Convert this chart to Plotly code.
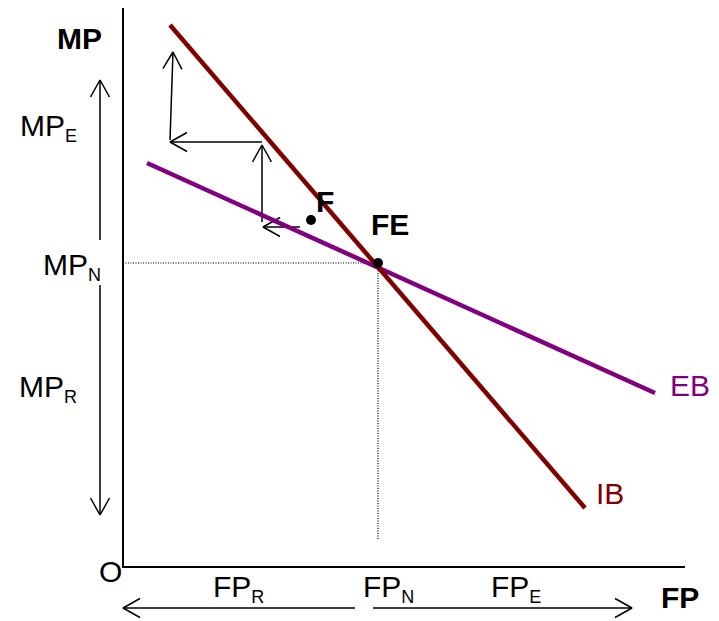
import math
import plotly.graph_objects as go

# coordinates in FP / MP units, origin O at the axes corner
ib_x = [47, 462]
ib_y = [542, 59]
eb_x = [24, 532]
eb_y = [404, 174]

fe_point = (255, 304)
f_point = (188, 347)

axis_top = 559
axis_right = 562
dotted_bottom = 27

# arrows as (tail_x, tail_y, head_x, head_y)
arrows = [
    (47, 427, 50, 515),
    (139, 425, 47, 425),
    (139, 345, 139, 422),
    (177, 340, 140, 340),
    (-23, 327, -23, 487),
    (-23, 282, -23, 52),
    (232, -41, 0, -41),
    (250, -41, 509, -41),
]

SUB = "<sub><span style='font-size:18px'>{}</span></sub>"

labels = [
    ("<b>MP</b>", -44, 529, "center"),
    ("MP" + SUB.format("E"), -105, 440, "left"),
    ("MP" + SUB.format("N"), -82, 301, "left"),
    ("MP" + SUB.format("R"), -106, 179, "left"),
    ("O", -13, -4, "center"),
    ("FP" + SUB.format("R"), 88, -21, "left"),
    ("FP" + SUB.format("N"), 238, -21, "left"),
    ("FP" + SUB.format("E"), 366, -21, "left"),
    ("<b>FP</b>", 557, -30, "center"),
    ("<b>F</b>", 202, 366, "center"),
    ("<b>FE</b>", 267, 343, "center"),
]

FONT = "Liberation Sans, Arial, sans-serif"
HEAD_LEN = 17
HEAD_HALF = 9.5

fig = go.Figure()

# axes
fig.add_trace(go.Scatter(x=[0, 0, axis_right], y=[axis_top, 0, 0], mode="lines",
                         line=dict(color="black", width=2), hoverinfo="skip"))

# dotted guides to FE
fig.add_trace(go.Scatter(x=[0, fe_point[0], None, fe_point[0], fe_point[0]],
                         y=[fe_point[1], fe_point[1], None, fe_point[1], dotted_bottom],
                         mode="lines", line=dict(color="black", width=1.2, dash="1px,1.5px"),
                         hoverinfo="skip"))

# arrows with open heads
ax, ay = [], []
for x0, y0, x1, y1 in arrows:
    dx, dy = x1 - x0, y1 - y0
    n = math.hypot(dx, dy)
    ux, uy = dx / n, dy / n
    px, py = -uy, ux
    bx, by = x1 - ux * HEAD_LEN, y1 - uy * HEAD_LEN
    ax += [x0, x1, None, bx + px * HEAD_HALF, x1, bx - px * HEAD_HALF, None]
    ay += [y0, y1, None, by + py * HEAD_HALF, y1, by - py * HEAD_HALF, None]
fig.add_trace(go.Scatter(x=ax, y=ay, mode="lines", line=dict(color="black", width=1.5),
                         hoverinfo="skip"))

# curves
fig.add_trace(go.Scatter(x=eb_x, y=eb_y, mode="lines", line=dict(color="#800080", width=4.5),
                         hoverinfo="skip"))
fig.add_trace(go.Scatter(x=ib_x, y=ib_y, mode="lines", line=dict(color="#800000", width=4.5),
                         hoverinfo="skip"))

fig.add_trace(go.Scatter(x=[f_point[0], fe_point[0]], y=[f_point[1], fe_point[1]], mode="markers",
                         marker=dict(color="black", size=10), hoverinfo="skip"))

for text, x, y, anchor in labels:
    fig.add_annotation(x=x, y=y, text=text, showarrow=False, xanchor=anchor, yanchor="middle",
                       font=dict(family=FONT, size=30, color="black"))

fig.add_annotation(x=eb_x[1] + 35, y=eb_y[1] + 8, text="EB", showarrow=False,
                   font=dict(family=FONT, size=30, color="#800080"))
fig.add_annotation(x=ib_x[1] + 25, y=ib_y[1] + 15, text="IB", showarrow=False,
                   font=dict(family=FONT, size=30, color="#800000"))

fig.update_layout(
    width=719, height=621,
    margin=dict(l=0, r=0, t=0, b=0),
    paper_bgcolor="white", plot_bgcolor="white",
    showlegend=False,
    xaxis=dict(range=[-123, 596], visible=False, fixedrange=True),
    yaxis=dict(range=[-54, 567], visible=False, fixedrange=True),
)

fig.write_html("out.html", config={"displayModeBar": False},
               post_script="document.body.style.margin='0';")
